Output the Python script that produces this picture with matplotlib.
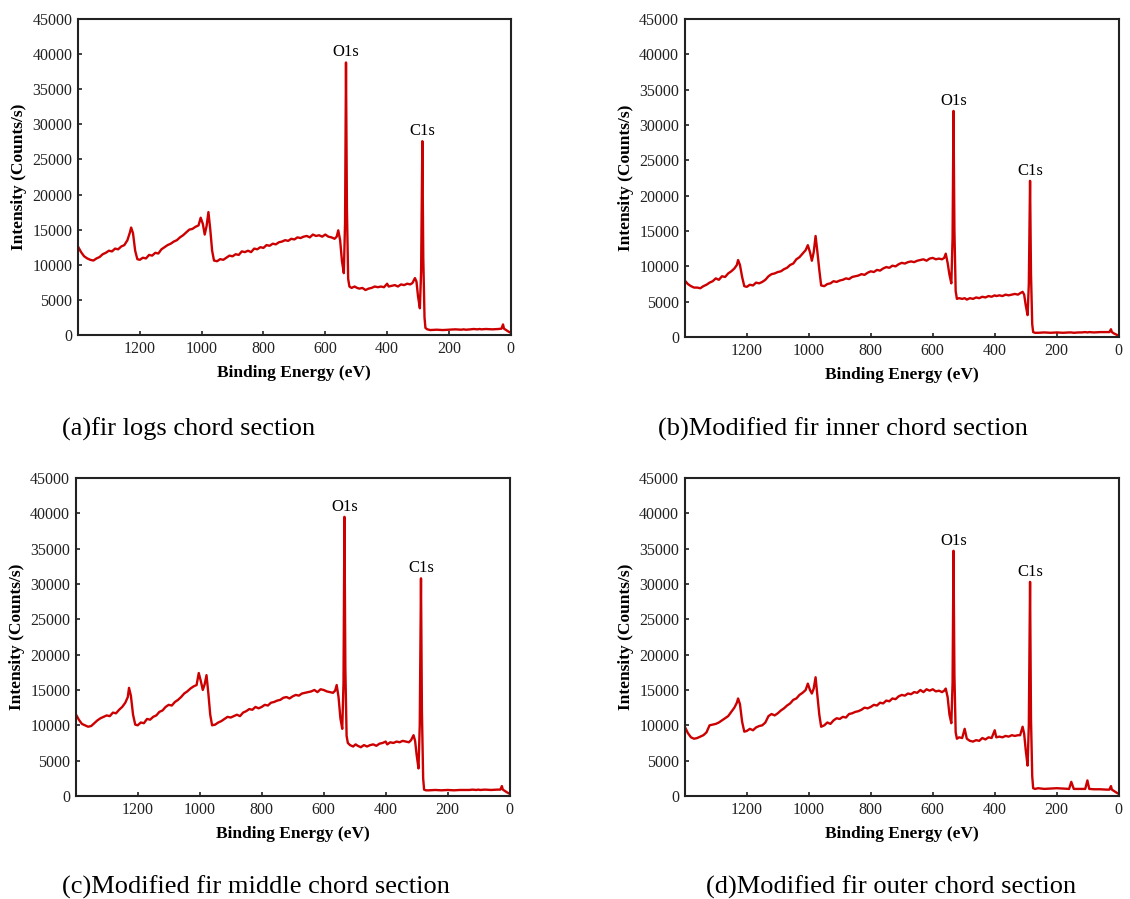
import matplotlib
matplotlib.use("Agg")
import matplotlib.pyplot as plt
import numpy as np

# Binding energy grid (eV), shared by all four survey spectra
energy = [
    1400, 1390, 1380, 1370, 1360, 1350, 1340, 1330, 1320, 1310,
    1300, 1290, 1280, 1270, 1260, 1250, 1240, 1232, 1228, 1222,
    1215, 1208, 1200, 1190, 1180, 1170, 1160, 1150, 1140, 1130,
    1120, 1110, 1100, 1090, 1080, 1070, 1060, 1050, 1040, 1030,
    1020, 1010, 1003, 996, 990, 984, 978, 972, 966, 960,
    950, 940, 930, 920, 910, 900, 890, 880, 870, 860,
    850, 840, 830, 820, 810, 800, 790, 780, 770, 760,
    750, 740, 730, 720, 710, 700, 690, 680, 670, 660,
    650, 640, 630, 620, 610, 600, 590, 580, 570, 563,
    558, 552, 546, 540, 536, 533, 530, 526, 522, 515,
    505, 497, 490, 480, 470, 460, 450, 440, 430, 420,
    410, 400, 395, 385, 375, 365, 355, 345, 335, 325,
    318, 310, 305, 300, 294, 290, 286, 283, 279, 276,
    270, 260, 240, 220, 200, 180, 160, 153, 145, 130,
    120, 108, 101, 95, 80, 60, 40, 30, 25, 22,
    15, 8, 0,
]

# (a) fir logs chord section
counts_a = [
    12600, 11800, 11200, 10900, 10700, 10600, 10900, 11100, 11500, 11700,
    12000, 11900, 12300, 12200, 12600, 12800, 13500, 14600, 15300, 14500,
    12000, 10800, 10700, 11000, 10900, 11400, 11300, 11700, 11600, 12200,
    12500, 12800, 13000, 13300, 13500, 13900, 14200, 14600, 15000, 15100,
    15400, 15600, 16700, 15800, 14300, 15500, 17500, 15000, 12000, 10600,
    10500, 10800, 10700, 11000, 11300, 11200, 11500, 11400, 11900, 11800,
    12000, 11800, 12300, 12200, 12500, 12400, 12800, 12700, 13000, 12900,
    13200, 13300, 13500, 13400, 13700, 13600, 13900, 13800, 14000, 14100,
    13900, 14300, 14100, 14200, 14000, 14300, 14000, 13900, 13700, 14000,
    14900, 13500, 10500, 8800, 16000, 38800, 18000, 8000, 6900, 6700,
    6900, 6700, 6600, 6700, 6400, 6600, 6700, 6900, 6800, 6900,
    6800, 7300, 6900, 7000, 7100, 6900, 7200, 7100, 7300, 7200,
    7400, 8100, 7600, 5500, 3800, 9000, 27600, 11000, 2500, 1000,
    800, 700, 750, 700, 750, 800, 750, 800, 750, 800,
    850, 800, 850, 800, 850, 800, 850, 900, 1500, 900,
    700, 500, 300,
]

# (b) Modified fir inner chord section
counts_b = [
    8000, 7500, 7200, 7000, 7000, 6900, 7200, 7400, 7700, 7900,
    8300, 8100, 8600, 8500, 9000, 9300, 9700, 10200, 10900, 10200,
    8500, 7200, 7100, 7400, 7300, 7700, 7600, 7800, 8100, 8600,
    8900, 9000, 9200, 9300, 9600, 9800, 10200, 10400, 11000, 11300,
    11800, 12300, 13000, 12000, 10800, 12000, 14300, 12000, 9500, 7300,
    7200, 7500, 7600, 7900, 7800, 8000, 8100, 8300, 8200, 8500,
    8600, 8700, 8900, 8800, 9100, 9300, 9200, 9500, 9400, 9700,
    9900, 9800, 10100, 10000, 10300, 10500, 10400, 10600, 10700, 10600,
    10800, 10900, 11000, 10800, 11100, 11200, 11000, 11100, 11000, 11200,
    11800, 10500, 8800, 7600, 14000, 32000, 15000, 6500, 5400, 5500,
    5400, 5500, 5300, 5500, 5400, 5600, 5500, 5700, 5600, 5800,
    5700, 5900, 5800, 5900, 5800, 6000, 5900, 6000, 6100, 6000,
    6200, 6400, 6000, 4500, 3100, 7500, 22100, 9000, 1800, 700,
    600, 600, 650, 600, 650, 600, 650, 650, 600, 650,
    650, 700, 650, 700, 650, 700, 700, 700, 1100, 700,
    500, 350, 200,
]

# (c) Modified fir middle chord section
counts_c = [
    11600, 10800, 10200, 10000, 9800, 9900, 10300, 10700, 11000, 11200,
    11400, 11300, 11800, 11700, 12200, 12600, 13200, 14000, 15300, 14200,
    11500, 10100, 10000, 10400, 10300, 10900, 10800, 11200, 11400, 11900,
    12100, 12600, 12900, 12800, 13300, 13600, 14000, 14500, 14800, 15200,
    15500, 15700, 17400, 16200, 15000, 15800, 17100, 14500, 11500, 10000,
    10100, 10400, 10600, 10900, 11200, 11100, 11300, 11500, 11300, 11800,
    12000, 12300, 12200, 12600, 12400, 12600, 12900, 12800, 13200, 13300,
    13500, 13600, 13900, 14000, 13800, 14100, 14300, 14200, 14500, 14600,
    14700, 14800, 15000, 14700, 15100, 15000, 14800, 14700, 14600, 14900,
    15700, 14000, 11000, 9500, 16000, 39500, 18000, 8500, 7500, 7200,
    7000, 7300, 7100, 6900, 7200, 7000, 7200, 7300, 7100, 7400,
    7500, 7700, 7300, 7600, 7500, 7700, 7600, 7800, 7700, 7600,
    7900, 8600, 7800, 5800, 3900, 10000, 30800, 12000, 2500, 900,
    800, 800, 850, 800, 850, 800, 850, 850, 850, 850,
    900, 850, 900, 850, 900, 850, 900, 900, 1400, 900,
    700, 500, 300,
]

# (d) Modified fir outer chord section
counts_d = [
    9800, 8900, 8300, 8100, 8200, 8400, 8600, 9000, 10000, 10100,
    10200, 10400, 10700, 11000, 11300, 11900, 12500, 13200, 13800, 13000,
    10500, 9100, 9200, 9500, 9300, 9700, 9900, 10000, 10400, 11300,
    11600, 11400, 11700, 12100, 12400, 12800, 13100, 13600, 13800, 14300,
    14600, 15000, 15900, 15000, 14500, 15200, 16800, 14200, 11500, 9800,
    10000, 10400, 10200, 10700, 11000, 10900, 11200, 11100, 11600, 11700,
    11900, 12000, 12200, 12500, 12400, 12600, 12900, 12800, 13200, 13100,
    13500, 13400, 13800, 13700, 14100, 14300, 14200, 14500, 14400, 14700,
    14600, 15000, 14700, 15100, 14900, 15100, 14800, 14900, 14700, 14900,
    15200, 14000, 11500, 10300, 16000, 34700, 17000, 9000, 8100, 8300,
    8200, 9500, 8100, 7800, 7700, 7900, 7800, 8200, 8000, 8300,
    8200, 9300, 8300, 8400, 8300, 8500, 8400, 8600, 8500, 8600,
    8600, 9800, 8800, 6500, 4300, 10000, 30300, 11000, 2800, 1100,
    1000, 1100, 1000, 1050, 1100, 1050, 1000, 2000, 1000, 1000,
    1000, 1000, 2200, 1000, 950, 950, 900, 900, 1400, 900,
    700, 500, 300,
]

captions = [
    "(a)fir logs chord section",
    "(b)Modified fir inner chord section",
    "(c)Modified fir middle chord section",
    "(d)Modified fir outer chord section",
]

# peak label heights (counts) for O1s and C1s in each panel
o1s_top = [38800, 32000, 39500, 34700]
c1s_top = [27600, 22100, 30800, 30300]

x_ticks = [1200, 1000, 800, 600, 400, 200, 0]
y_ticks = [0, 5000, 10000, 15000, 20000, 25000, 30000, 35000, 40000, 45000]

plt.rcParams['font.family'] = ['Liberation Serif', 'DejaVu Serif']

fig = plt.figure(figsize=(11.3, 8.99), dpi=100)

# axes rectangles in figure fractions
axes_rects = [
    [0.069, 0.6274, 0.383, 0.3515],
    [0.606, 0.6251, 0.384, 0.3537],
    [0.067, 0.1146, 0.384, 0.3537],
    [0.606, 0.1146, 0.384, 0.3537],
]
caption_pos = [(0.055, 0.522), (0.582, 0.522), (0.055, 0.0135), (0.625, 0.0135)]

all_counts = [counts_a, counts_b, counts_c, counts_d]
line_color = '#cc0000'

for i in range(4):
    ax = fig.add_axes(axes_rects[i])
    ax.plot(energy, all_counts[i], color=line_color, linewidth=1.7)
    ax.set_xlim(1400, 0)
    ax.set_ylim(0, 45000)
    ax.set_xticks(x_ticks)
    ax.set_yticks(y_ticks)
    ax.tick_params(direction='in', length=3, width=1.2, labelsize=11.5, pad=4,
                   colors='#222222')
    for sp in ax.spines.values():
        sp.set_linewidth(1.5)
        sp.set_color('#222222')
    ax.set_xlabel('Binding Energy (eV)', fontsize=12.5, fontweight='bold', labelpad=6)
    ax.set_ylabel('Intensity (Counts/s)', fontsize=12.5, fontweight='bold', labelpad=4)

    ax.text(533, o1s_top[i] + 300, 'O1s', ha='center', va='bottom', fontsize=12)
    ax.text(285, c1s_top[i] + 300, 'C1s', ha='center', va='bottom', fontsize=12)

    fig.text(caption_pos[i][0], caption_pos[i][1], captions[i], fontsize=19,
             ha='left', va='center')

fig.savefig('out.png', dpi=100)
